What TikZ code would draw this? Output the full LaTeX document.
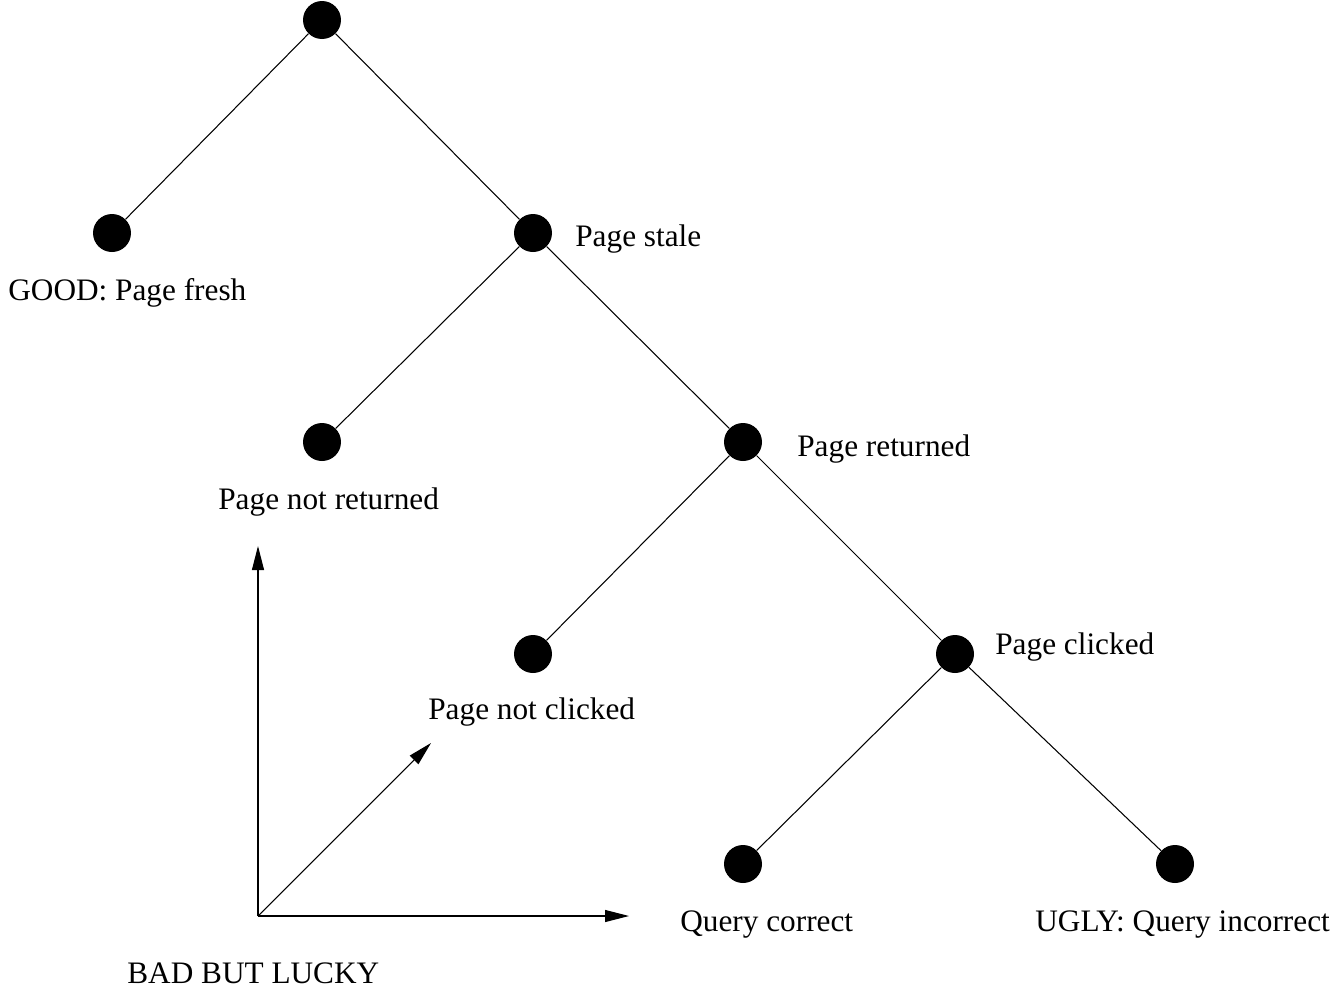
\documentclass[tikz,border=0pt]{standalone}
\usepackage{fontspec}
\setmainfont{Liberation Serif}
\usepackage{tikz}
\usetikzlibrary{arrows.meta, positioning}

\begin{document}
\begin{tikzpicture}[
    x=0.02cm, y=-0.02cm,
    dot/.style={circle, fill=black, inner sep=0pt, minimum size=0.76cm},
    lbl/.style={anchor=base west, inner sep=0pt, font=\fontsize{17.8}{21}\selectfont},
    edge/.style={line width=0.6pt},
    arrow/.style={-{Triangle[length=0.48cm, width=0.24cm]}, line width=0.6pt}
]
\useasboundingbox (0,0) rectangle (1340,988);

% decision tree
\node[dot] (root) at (322,20) {};
\node[dot] (fresh) at (112,233) {};
\node[dot] (stale) at (533,233) {};
\node[dot] (notret) at (322,442) {};
\node[dot] (ret) at (743,442) {};
\node[dot] (notclick) at (533,654) {};
\node[dot] (click) at (955,654) {};
\node[dot] (correct) at (743,864) {};
\node[dot] (incorrect) at (1175,864) {};

\draw[edge] (root) -- (fresh);
\draw[edge] (root) -- (stale);
\draw[edge] (stale) -- (notret);
\draw[edge] (stale) -- (ret);
\draw[edge] (ret) -- (notclick);
\draw[edge] (ret) -- (click);
\draw[edge] (click) -- (correct);
\draw[edge] (click) -- (incorrect);

% outcome labels
\node[lbl] (tfresh) at (8,300) {GOOD: Page fresh};
\node[lbl] (tstale) at (575,246) {Page stale};
\node[lbl] (tnotret) at (218,509) {Page not returned};
\node[lbl] (tret) at (797,456) {Page returned};
\node[lbl] (tnotclick) at (428,719) {Page not clicked};
\node[lbl] (tclick) at (995,654) {Page clicked};
\node[lbl] (tcorrect) at (680,931) {Query correct};
\node[lbl] (tincorrect) at (1035,931) {UGLY: Query incorrect};
\node[lbl] (tlucky) at (127,983) {BAD BUT LUCKY};

% axes
\coordinate (origin) at (258,916);
\coordinate (up) at (258,546);
\coordinate (right) at (629,916);
\coordinate (diag) at (431,743);
\draw[arrow] (origin) -- (up);
\draw[arrow] (origin) -- (right);
\draw[arrow] (origin) -- (diag);
\end{tikzpicture}
\end{document}
